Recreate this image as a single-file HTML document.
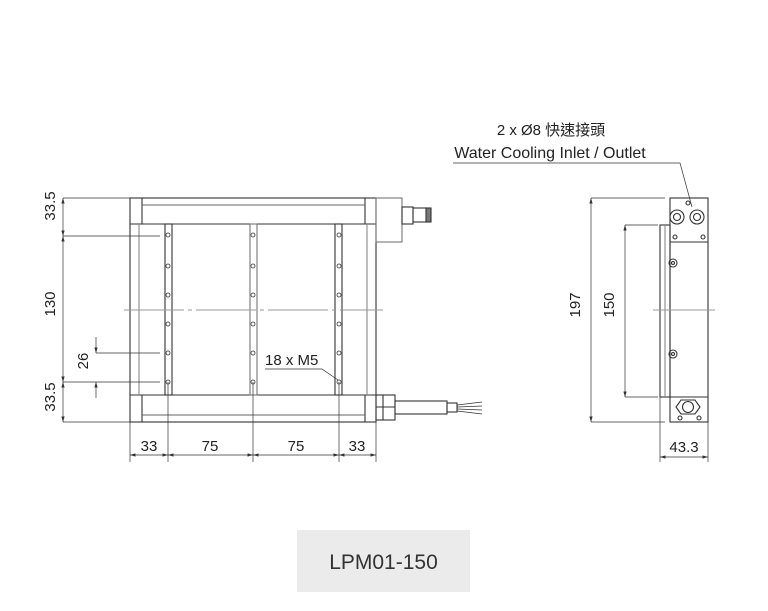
<!DOCTYPE html>
<html><head><meta charset="utf-8"><style>
html,body{margin:0;padding:0;background:#fff;}
svg{display:block;}
text{font-family:"Liberation Sans","Noto Sans CJK TC",sans-serif;fill:#222;}
</style></head><body>
<svg width="768" height="611" viewBox="0 0 768 611" xmlns="http://www.w3.org/2000/svg">
<defs>
<marker id="a" viewBox="0 0 10 6" refX="10" refY="3" markerWidth="8" markerHeight="5" orient="auto-start-reverse"><path d="M0,0L10,3L0,6z" fill="#333"/></marker>
</defs>
<g fill="none" stroke="#333" stroke-width="1.1">
<rect x="130" y="198" width="246" height="224"/>
<line x1="130" y1="224" x2="376" y2="224"/>
<line x1="130" y1="395" x2="376" y2="395"/>
<line x1="142" y1="198" x2="142" y2="224"/><line x1="365" y1="198" x2="365" y2="224"/>
<line x1="142" y1="205" x2="365" y2="205" stroke="#666"/>
<line x1="142" y1="395" x2="142" y2="422"/><line x1="365" y1="395" x2="365" y2="422"/>
<line x1="142" y1="415" x2="365" y2="415" stroke="#666"/>
<line x1="139" y1="224" x2="139" y2="395" stroke="#888"/>
<line x1="367" y1="224" x2="367" y2="395" stroke="#888"/>
<rect x="165" y="224" width="7" height="171"/>
<rect x="250" y="224" width="7" height="171" stroke="#777"/>
<rect x="335" y="224" width="7" height="171"/>
<g stroke-width="0.8">
<circle cx="168" cy="235" r="2"/><circle cx="168" cy="266" r="2"/><circle cx="168" cy="295" r="2"/><circle cx="168" cy="324" r="2"/><circle cx="168" cy="353" r="2"/><circle cx="168" cy="382" r="2"/>
<circle cx="253" cy="235" r="2"/><circle cx="253" cy="266" r="2"/><circle cx="253" cy="295" r="2"/><circle cx="253" cy="324" r="2"/><circle cx="253" cy="353" r="2"/><circle cx="253" cy="382" r="2"/>
<circle cx="339" cy="235" r="2"/><circle cx="339" cy="266" r="2"/><circle cx="339" cy="295" r="2"/><circle cx="339" cy="324" r="2"/><circle cx="339" cy="353" r="2"/><circle cx="339" cy="382" r="2"/>
</g>
<rect x="376" y="198" width="26" height="44" stroke="#777"/>
<rect x="402" y="207" width="11" height="17"/>
<rect x="413" y="208" width="14" height="14"/>
<rect x="426" y="208" width="5" height="14" fill="#777"/>
<rect x="376" y="395" width="19" height="25"/>
<line x1="383" y1="395" x2="383" y2="420"/><line x1="376" y1="407" x2="395" y2="407"/>
<rect x="395" y="401" width="52" height="13"/>
<rect x="447" y="403" width="10" height="9"/>
<path d="M457,405L482,402M457,407L482,406M457,409L482,410M457,411L482,414" stroke-width="0.8"/>
<line x1="124" y1="310" x2="383" y2="310" stroke="#999" stroke-dasharray="60,4,4,4"/>
<line x1="63" y1="198" x2="130" y2="198" stroke-width="0.7"/>
<line x1="63" y1="236" x2="160" y2="236" stroke-width="0.7"/>
<line x1="63" y1="382" x2="160" y2="382" stroke-width="0.7"/>
<line x1="63" y1="422" x2="130" y2="422" stroke-width="0.7"/>
<line x1="63" y1="198" x2="63" y2="236" stroke-width="0.7" marker-start="url(#a)" marker-end="url(#a)"/>
<line x1="63" y1="236" x2="63" y2="382" stroke-width="0.7" marker-start="url(#a)" marker-end="url(#a)"/>
<line x1="63" y1="382" x2="63" y2="422" stroke-width="0.7" marker-start="url(#a)" marker-end="url(#a)"/>
<line x1="96" y1="353" x2="160" y2="353" stroke-width="0.7"/>
<line x1="96" y1="337" x2="96" y2="353" stroke-width="0.7" marker-end="url(#a)"/>
<line x1="96" y1="398" x2="96" y2="382" stroke-width="0.7" marker-end="url(#a)"/>
<line x1="130" y1="422" x2="130" y2="462" stroke-width="0.7"/>
<line x1="168" y1="382" x2="168" y2="462" stroke-width="0.7"/>
<line x1="253" y1="382" x2="253" y2="462" stroke-width="0.7"/>
<line x1="339" y1="382" x2="339" y2="462" stroke-width="0.7"/>
<line x1="376" y1="422" x2="376" y2="462" stroke-width="0.7"/>
<line x1="130" y1="455" x2="168" y2="455" stroke-width="0.7" marker-start="url(#a)" marker-end="url(#a)"/>
<line x1="168" y1="455" x2="253" y2="455" stroke-width="0.7" marker-start="url(#a)" marker-end="url(#a)"/>
<line x1="253" y1="455" x2="339" y2="455" stroke-width="0.7" marker-start="url(#a)" marker-end="url(#a)"/>
<line x1="339" y1="455" x2="376" y2="455" stroke-width="0.7" marker-start="url(#a)" marker-end="url(#a)"/>
<polyline points="265,369 322,369 338,380" stroke-width="0.7"/>

<rect x="670" y="198" width="38" height="224"/>
<line x1="670" y1="242" x2="708" y2="242"/>
<line x1="670" y1="397" x2="708" y2="397"/>
<rect x="660" y="225" width="10" height="172"/>
<line x1="665" y1="225" x2="665" y2="397" stroke="#888"/>
<circle cx="677" cy="217" r="7"/><circle cx="677" cy="217" r="3.5"/>
<circle cx="697" cy="217" r="7"/><circle cx="697" cy="217" r="3.5"/>
<circle cx="688" cy="203" r="2"/><circle cx="675" cy="237" r="2"/><circle cx="703" cy="237" r="2"/>
<circle cx="673" cy="263" r="4"/><circle cx="673" cy="263" r="1.5"/>
<circle cx="673" cy="354" r="4"/><circle cx="673" cy="354" r="1.5"/>
<polygon points="681,400 695,400 700,407 695,414 681,414 676,407"/>
<circle cx="688" cy="407" r="5.5"/>
<circle cx="680" cy="418" r="2"/><circle cx="699" cy="418" r="2"/>
<line x1="653" y1="310" x2="715" y2="310" stroke="#999"/>
<line x1="591" y1="198" x2="665" y2="198" stroke-width="0.7"/>
<line x1="591" y1="422" x2="665" y2="422" stroke-width="0.7"/>
<line x1="591" y1="198" x2="591" y2="422" stroke-width="0.7" marker-start="url(#a)" marker-end="url(#a)"/>
<line x1="625" y1="225" x2="658" y2="225" stroke-width="0.7"/>
<line x1="625" y1="397" x2="658" y2="397" stroke-width="0.7"/>
<line x1="625" y1="225" x2="625" y2="397" stroke-width="0.7" marker-start="url(#a)" marker-end="url(#a)"/>
<line x1="660" y1="397" x2="660" y2="462" stroke-width="0.7"/>
<line x1="708" y1="422" x2="708" y2="462" stroke-width="0.7"/>
<line x1="660" y1="457" x2="708" y2="457" stroke-width="0.7" marker-start="url(#a)" marker-end="url(#a)"/>
<polyline points="453,163 680,163 692,207" stroke-width="0.7"/>
</g>
<g font-size="15">
<text x="60" y="211" transform="rotate(-90 55 211)" text-anchor="middle">33.5</text>
<text x="60" y="309" transform="rotate(-90 55 309)" text-anchor="middle">130</text>
<text x="60" y="402" transform="rotate(-90 55 402)" text-anchor="middle">33.5</text>
<text x="93" y="366" transform="rotate(-90 88 366)" text-anchor="middle">26</text>
<text x="149" y="451" text-anchor="middle">33</text>
<text x="210" y="451" text-anchor="middle">75</text>
<text x="296" y="451" text-anchor="middle">75</text>
<text x="357" y="451" text-anchor="middle">33</text>
<text x="265" y="365">18 x M5</text>
<text x="585" y="310" transform="rotate(-90 580 310)" text-anchor="middle">197</text>
<text x="619" y="310" transform="rotate(-90 614 310)" text-anchor="middle">150</text>
<text x="684" y="452" text-anchor="middle">43.3</text>
</g>
<text x="551" y="135" font-size="15" text-anchor="middle">2 x Ø8 快速接頭</text>
<text x="550" y="158" font-size="16" text-anchor="middle">Water Cooling Inlet / Outlet</text>
<rect x="297" y="530" width="173" height="62" fill="#ebebeb"/>
<text x="383.5" y="569" font-size="21" text-anchor="middle" style="fill:#333">LPM01-150</text>
</svg>
</body></html>
